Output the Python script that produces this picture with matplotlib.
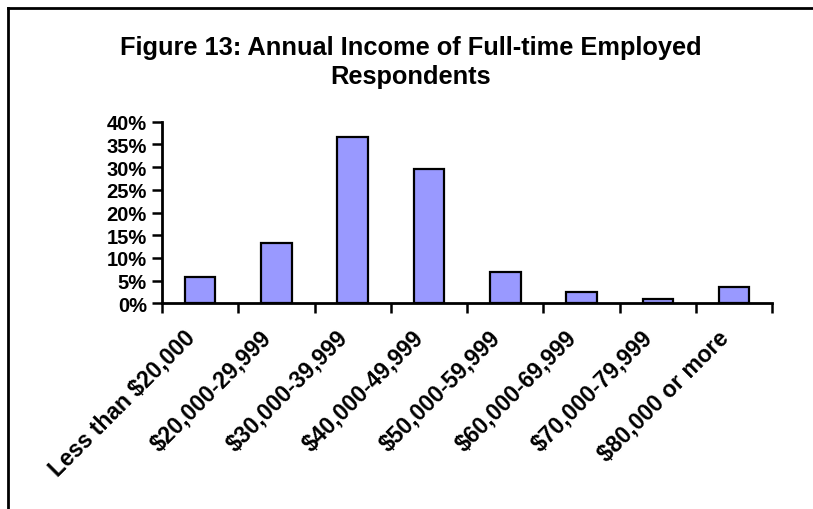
import matplotlib
matplotlib.use("Agg")
import matplotlib.pyplot as plt
import matplotlib.transforms as mtransforms
from matplotlib.lines import Line2D
import numpy as np

categories = ["Less than $20,000", "$20,000-29,999", "$30,000-39,999", "$40,000-49,999",
              "$50,000-59,999", "$60,000-69,999", "$70,000-79,999", "$80,000 or more"]
shares = [5.7, 13.3, 36.6, 29.6, 6.8, 2.6, 1.0, 3.6]
yticks = [0, 5, 10, 15, 20, 25, 30, 35, 40]
title = "Figure 13: Annual Income of Full-time Employed\nRespondents"

plt.rcParams["font.family"] = ["Liberation Sans", "DejaVu Sans"]
plt.rcParams["font.weight"] = "bold"

fig = plt.figure(figsize=(8.13, 5.10), dpi=100)
ax = fig.add_axes([0.1993, 0.4033, 0.7507, 0.3561])

x = np.arange(len(categories))
ax.bar(x, shares, width=0.4, color="#9999FF", edgecolor="black", linewidth=1.6)

ax.set_xlim(-0.5, len(categories) - 0.5)
ax.set_ylim(0, 40)
ax.set_yticks(yticks)
ax.set_yticklabels([f"{v}%" for v in yticks], fontsize=14.5, fontweight="bold")

# categories at centres, tick marks at the boundaries
ax.set_xticks(x)
ax.set_xticklabels(categories, rotation=45, ha="right", rotation_mode="anchor",
                   fontsize=16.5, fontweight="bold")
ax.set_xticks(np.arange(-0.5, len(categories)), minor=True)
ax.tick_params(axis="x", which="major", length=0, pad=16)
ax.tick_params(axis="x", which="minor", length=7, width=1.8, direction="out")
ax.tick_params(axis="y", length=7, width=1.8, direction="out", pad=4)

# nudge the slanted labels a bit left, like the original
shift = mtransforms.ScaledTranslation(-17 / 100, 0, fig.dpi_scale_trans)
for lab in ax.get_xticklabels():
    lab.set_transform(lab.get_transform() + shift)

for side in ["top", "right"]:
    ax.spines[side].set_visible(False)
for side in ["left", "bottom"]:
    ax.spines[side].set_linewidth(2)

fig.text(0.505, 0.877, title, ha="center", va="center", fontsize=18.3,
         fontweight="bold", linespacing=1.25)

# chart frame, only top and left edges fall inside the picture
fig.add_artist(Line2D([0.0098, 1.0], [0.9824, 0.9824], transform=fig.transFigure,
                      color="black", linewidth=2))
fig.add_artist(Line2D([0.0098, 0.0098], [0.0, 0.9824], transform=fig.transFigure,
                      color="black", linewidth=2))

fig.savefig("out.png", dpi=100, facecolor="white")
